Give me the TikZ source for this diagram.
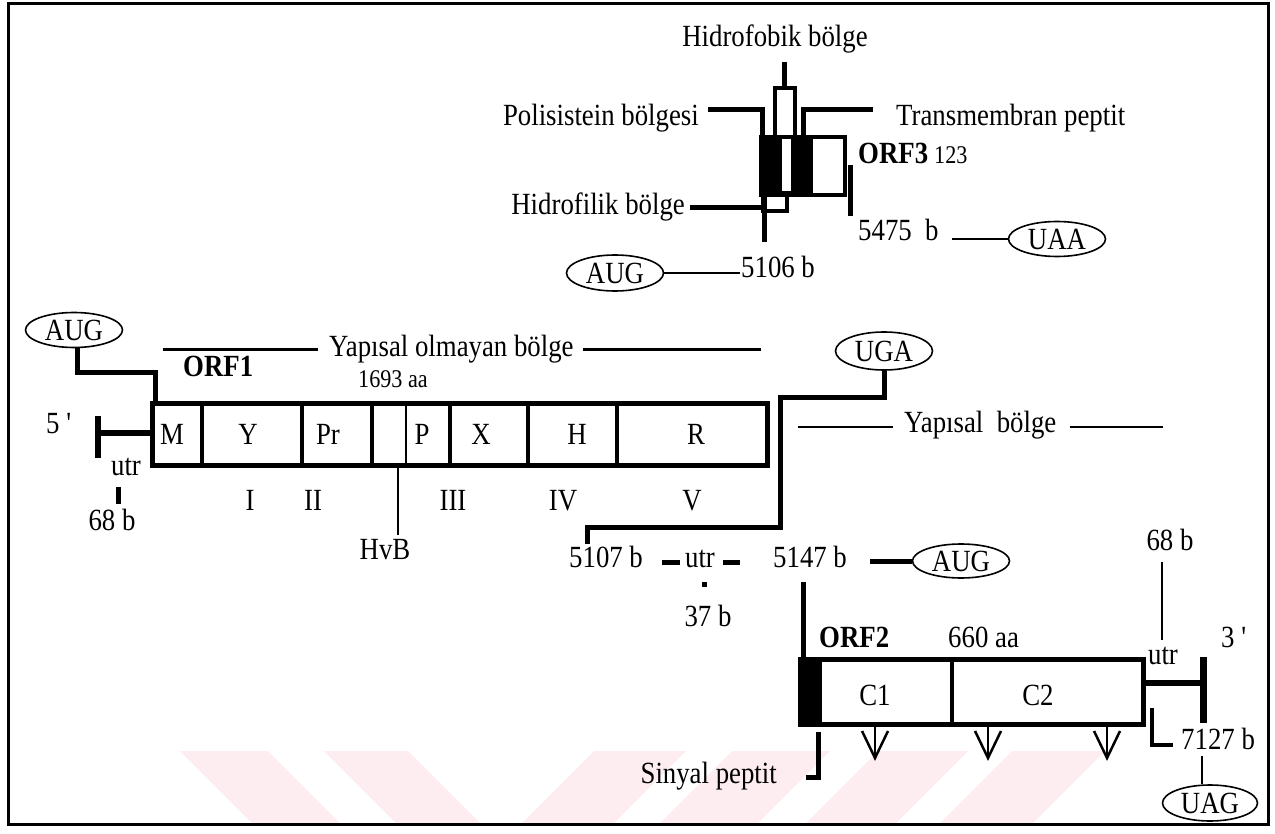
\documentclass[tikz,border=0pt]{standalone}
\usepackage{fontspec}
\setmainfont[FakeStretch=0.87]{Liberation Serif}
\usetikzlibrary{shapes.geometric}
\definecolor{wm}{RGB}{253,236,240}
\begin{document}
\begin{tikzpicture}[x=1pt,y=-1pt,
  lbl/.style={inner sep=1pt, font=\fontsize{30.8}{33}\selectfont},
  sml/.style={inner sep=1pt, font=\fontsize{25.5}{28}\selectfont},
  codon/.style={draw, ellipse, line width=1.6pt, minimum width=97pt, minimum height=36pt, inner sep=0pt, font=\fontsize{30.8}{33}\selectfont},
  heavy/.style={line width=5pt},
  fine/.style={line width=2pt},
  rule/.style={line width=2.5pt}]
\useasboundingbox (0,0) rectangle (1275,834);
% watermark stripes
\fill[wm] (180,751) -- (268,751) -- (341,824) -- (253,824) -- cycle;
\fill[wm] (324,751) -- (408,751) -- (481,824) -- (397,824) -- cycle;
\fill[wm] (594,751) -- (686,751) -- (613,824) -- (521,824) -- cycle;
\fill[wm] (732,751) -- (830,751) -- (757,824) -- (659,824) -- cycle;
\fill[wm] (878,751) -- (968,751) -- (895,824) -- (805,824) -- cycle;
\fill[wm] (1012,751) -- (1105,751) -- (1032,824) -- (939,824) -- cycle;
% frame
\draw[line width=3pt] (8,4) rectangle (1268,824);

% ---------- ORF3 ----------
\node[lbl, anchor=base] (hfob) at (775,47) {Hidrofobik bölge};
\draw[heavy] (784,62) -- (784,88);
\fill (761,137) rectangle (782,195);
\fill (791,137) rectangle (813,195);
\draw[line width=4pt] (775,88) rectangle (795,193);
\draw[line width=4pt] (761,137) rectangle (845,195);
\draw[heavy] (708,110) -- (762,110) -- (762,139);
\draw[heavy] (873,110) -- (803,110) -- (803,139);
\filldraw[fill=white, line width=4pt] (763,195) rectangle (787,211);
\draw[heavy] (690,208) -- (763,208);
\draw[heavy] (764,195) -- (764,242);
\draw[heavy] (850,165) -- (850,216);
\node[lbl, anchor=base east] (polis) at (700,126) {Polisistein bölgesi};
\node[lbl, anchor=base west] (trans) at (895,126) {Transmembran peptit};
\node[lbl, anchor=base east] (hfil) at (686,215) {Hidrofilik bölge};
\node[lbl, anchor=base west] (orf3) at (857,164) {\textbf{ORF3}};
\node[sml, anchor=base west] (n123) at (933,164) {123};
\node[lbl, anchor=base west] (t5475) at (857,241) {5475\ \ b};
\node[codon, minimum height=35pt] (uaa) at (1057,239) {UAA};
\draw[fine] (uaa.west) -- ++(-56,0);
\node[codon] (aug3) at (615,273) {AUG};
\node[lbl, anchor=base west] (t5106) at (740,278) {5106 b};
\draw[fine] (aug3.east) -- (t5106.west |- aug3.east);

% ---------- ORF1 ----------
\node[codon, minimum height=35pt] (aug1) at (74,330) {AUG};
\draw[heavy] ([xshift=3pt]aug1.south) -- ++(0,24) -| (155,403);
\node[lbl, anchor=base west] (yapo) at (328,357) {Yapısal olmayan bölge};
\draw[rule] ([xshift=-10pt]yapo.west) -- ++(-155,0);
\draw[rule] ([xshift=8pt]yapo.east) -- ++(178,0);
\node[lbl, anchor=base west] (orf1) at (182,377) {\textbf{ORF1}};
\node[sml, anchor=base west] (n1693) at (357,388) {1693 aa};
\node[lbl, anchor=base west] (t5p) at (45,433) {5 \textquotesingle};
\draw[heavy] (152,403) rectangle (767,465);
\foreach \x in {202,302,372,450,528,617} \draw[line width=3.5pt] (\x,403) -- (\x,465);
\draw[fine] (406,403) -- (406,465);
\foreach \t/\x in {M/172,Y/248,Pr/328,P/422,X/481,H/577,R/696}
  \node[lbl, anchor=base] (box-\t) at (\x,444) {\t};
\foreach \t/\x in {I/250,II/313,III/453,IV/563,V/692}
  \node[lbl, anchor=base] (dom-\t) at (\x,510) {\t};
\draw[fine] (398,465) -- (398,535);
\node[lbl, anchor=base] (hvb) at (385,559) {HvB};
\draw[line width=6pt] (98,433) -- (152,433);
\draw[line width=6pt] (98,416) -- (98,458);
\node[lbl, anchor=base] (utrl) at (126,475) {utr};
\draw[heavy] (118,487) -- (118,504);
\node[lbl, anchor=base] (t68l) at (112,530) {68 b};

% ---------- junction ----------
\node[codon, minimum height=38pt] (uga) at (884,351) {UGA};
\draw[heavy] (uga.south) -- (884,397) -- (780,397) -- (780,527) -- (587,527) -- (587,544);
\node[lbl, anchor=base west] (yap) at (903,432) {Yapısal\ \ bölge};
\draw[rule] ([xshift=-10pt]yap.west |- 0,427) -- (798,427);
\draw[rule] ([xshift=12pt]yap.east |- 0,427) -- (1163,427);
\node[lbl, anchor=base west] (t5107) at (568,567) {5107 b};
\node[lbl, anchor=base] (utrm) at (700,567) {utr};
\draw[heavy] (662,562) -- (680,562);
\draw[heavy] (723,562) -- (740,562);
\fill (701.5,581.5) rectangle (706.5,586.5);
\node[lbl, anchor=base] (t37) at (708,626) {37 b};
\node[lbl, anchor=base west] (t5147) at (772,567) {5147 b};
\node[codon, minimum height=34pt] (aug2) at (961,561) {AUG};
\draw[heavy] (aug2.west) -- ++(-42,0);
\draw[heavy] (803,582) -- (803,662);

% ---------- ORF2 ----------
\node[lbl, anchor=base] (t68r) at (1170,550) {68 b};
\draw[fine] (1162,562) -- (1162,640);
\node[lbl, anchor=base west] (orf2) at (818,647) {\textbf{ORF2}};
\node[lbl, anchor=base west] (t660) at (947,647) {660 aa};
\node[lbl, anchor=base west] (t3p) at (1220,647) {3 \textquotesingle};
\node[lbl, anchor=base] (utrr) at (1163,664) {utr};
\draw[heavy] (800,659) rectangle (1143,724);
\fill (800,659) rectangle (822,724);
\draw[line width=4pt] (952,659) -- (952,724);
\node[lbl, anchor=base] (c1) at (875,705) {C1};
\node[lbl, anchor=base] (c2) at (1038,705) {C2};
\foreach \x in {875,988,1107} {
  \draw[line width=2.5pt] (\x,724) -- (\x,758);
  \draw[line width=2.5pt] (\x-13,731) -- (\x,758) -- (\x+13,731);
}
\draw[heavy] (818,732) -- (818,777) -- (806,777);
\node[lbl, anchor=base east] (sin) at (778,783) {Sinyal peptit};
\draw[line width=6pt] (1143,683) -- (1203,683);
\draw[line width=7pt] (1203,657) -- (1203,723);
\draw[line width=4pt] (1152,708) -- (1152,745) -- (1173,745);
\node[lbl, anchor=base west] (t7127) at (1180,749) {7127 b};
\node[codon, minimum width=95pt, minimum height=36pt] (uag) at (1210,803) {UAG};
\draw[fine] ([xshift=-8pt]uag.north) -- ++(0,-28);
\end{tikzpicture}
\end{document}
